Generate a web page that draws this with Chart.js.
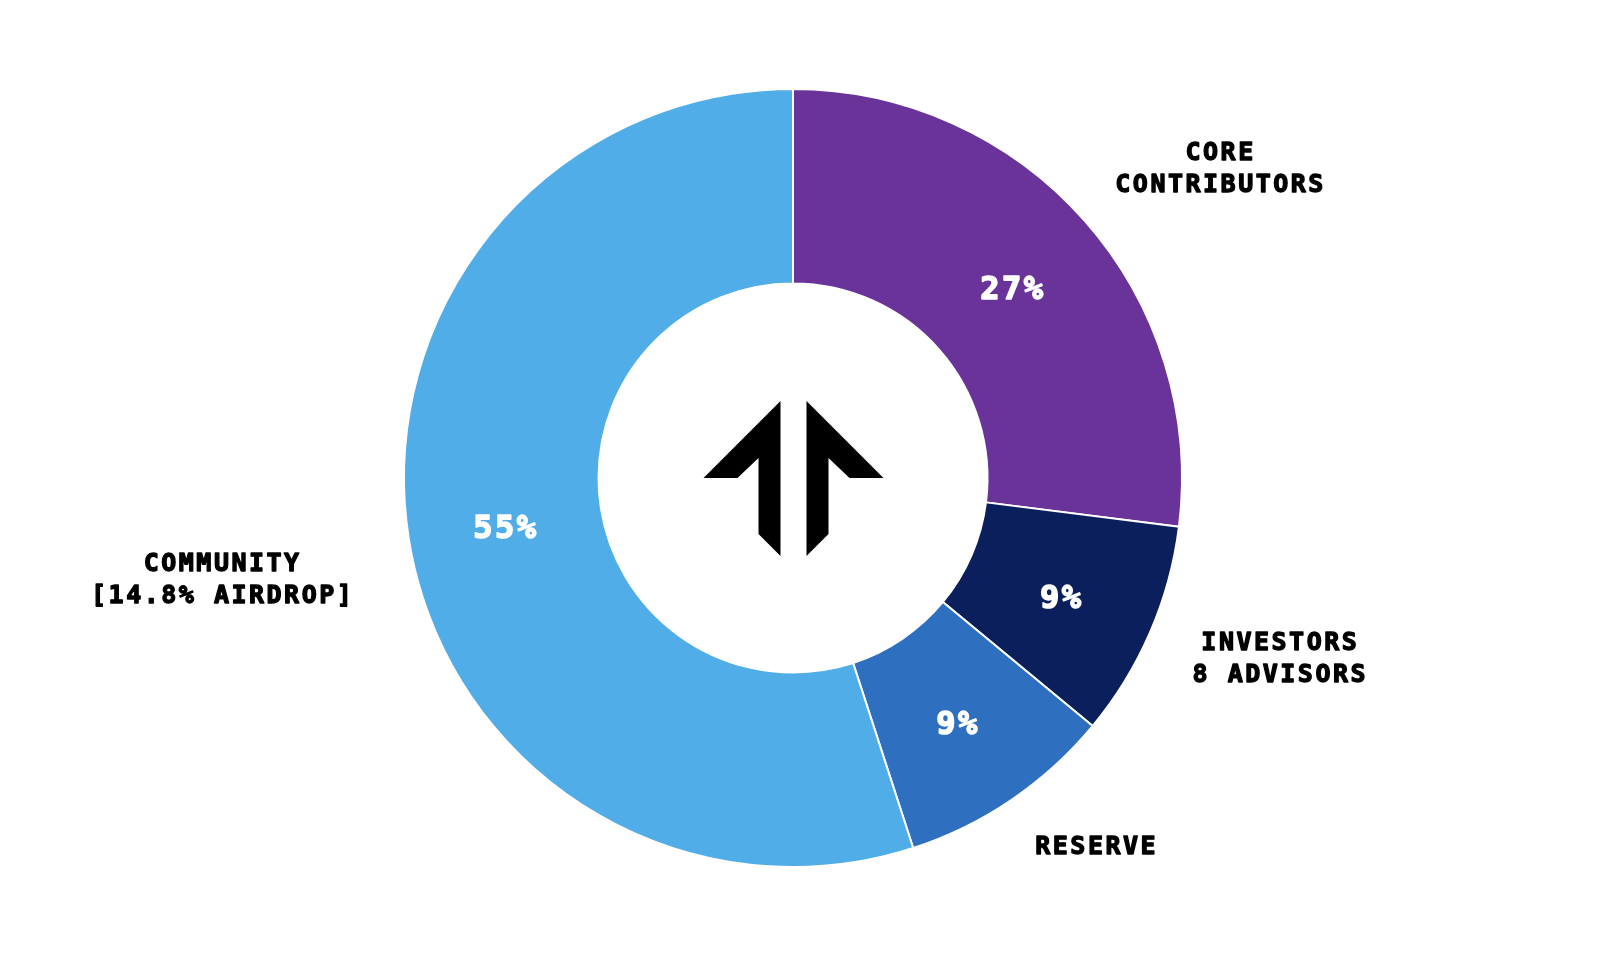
<!DOCTYPE html>
<html>
<head>
<meta charset="utf-8">
<script src="https://cdn.jsdelivr.net/npm/chart.js@4"></script>
<style>
  html, body { margin: 0; padding: 0; background: #fff; }
  #wrap { width: 1602px; height: 974px; }
</style>
</head>
<body>
<div id="wrap"><canvas id="chart1"></canvas></div>
<script>
    const labels = [["CORE", "CONTRIBUTORS"], ["INVESTORS", "8 ADVISORS"], ["RESERVE"], ["COMMUNITY", "[14.8% AIRDROP]"]];
    const shares = [27, 9, 9, 55];
    const colors = ["#6a3399", "#0b1f5c", "#2e6fbf", "#50ade8"];
    // small hand nudges for the outside names (px)
    const nudges = [[-3, 9], [2, 10], [-2, 5], [-15, 35]];

    const labelFont = "bold 25px 'DejaVu Sans Mono'";
    const pctFont = "bold 32px 'DejaVu Sans Mono'";

    // labels on and around the slices
    const sliceLabels = {
      id: "sliceLabels",
      afterDatasetsDraw(chart) {
        const ctx = chart.ctx;
        const meta = chart.getDatasetMeta(0);
        meta.data.forEach((arc, i) => {
          const p = arc.getProps(["x", "y", "startAngle", "endAngle", "innerRadius", "outerRadius"], true);
          const mid = (p.startAngle + p.endAngle) / 2;
          const dx = Math.cos(mid), dy = Math.sin(mid);

          // percentage inside the ring
          const rIn = (p.innerRadius + p.outerRadius) / 2;
          ctx.save();
          ctx.font = pctFont;
          ctx.letterSpacing = "2.5px";
          ctx.fillStyle = "#fff";
          ctx.strokeStyle = "#fff";
          ctx.lineWidth = 1.6;
          ctx.lineJoin = "round";
          ctx.textAlign = "center";
          ctx.textBaseline = "middle";
          const px = p.x + dx * rIn + 1, py = p.y + dy * rIn + 6;
          ctx.strokeText(shares[i] + "%", px, py);
          ctx.fillText(shares[i] + "%", px, py);
          ctx.restore();

          // name outside the ring
          const rOut = p.outerRadius + 42;
          const ax = p.x + dx * rOut, ay = p.y + dy * rOut;
          const lines = labels[i];
          const lh = 32;
          ctx.save();
          ctx.font = labelFont;
          ctx.letterSpacing = "2.5px";
          ctx.fillStyle = "#000";
          ctx.strokeStyle = "#000";
          ctx.lineWidth = 1.3;
          ctx.lineJoin = "round";
          ctx.textAlign = "center";
          ctx.textBaseline = "middle";
          const w = Math.max(...lines.map(t => ctx.measureText(t).width));
          const h = lines.length * lh;
          const cx = (dx >= 0 ? ax + w / 2 : ax - w / 2) + nudges[i][0];
          let top;
          if (dy < -0.5) top = ay - h;
          else if (dy > 0.5) top = ay - 8;
          else top = ay - h / 2;
          top += nudges[i][1];
          lines.forEach((t, j) => {
            ctx.strokeText(t, cx + 2, top + lh * j + lh / 2);
            ctx.fillText(t, cx + 2, top + lh * j + lh / 2);
          });
          ctx.restore();
        });
      }
    };

    // logo in the hole
    const centerLogo = {
      id: "centerLogo",
      afterDraw(chart) {
        const arc = chart.getDatasetMeta(0).data[0];
        const cx = arc.x + 0.5, cy = arc.y;
        const half = [[-13, -77], [-90, 0], [-56, 0], [-35, -20], [-35, 56], [-13, 78]];
        const ctx = chart.ctx;
        ctx.save();
        ctx.fillStyle = "#000";
        [1, -1].forEach(s => {
          ctx.beginPath();
          half.forEach(([x, y], k) => {
            if (k === 0) ctx.moveTo(cx + s * x, cy + y);
            else ctx.lineTo(cx + s * x, cy + y);
          });
          ctx.closePath();
          ctx.fill();
        });
        ctx.restore();
      }
    };

    const ctx1 = document.getElementById("chart1").getContext("2d");
    new Chart(ctx1, {
      type: "doughnut",
      data: {
        labels: labels.map(l => l.join(" ")),
        datasets: [{ data: shares, backgroundColor: colors, borderColor: "#fff", borderWidth: 2 }]
      },
      options: {
        responsive: true,
        maintainAspectRatio: false,
        animation: false,
        cutout: "50%",
        layout: { padding: { top: 88, bottom: 106, left: 0, right: 16 } },
        plugins: { legend: { display: false }, tooltip: { enabled: false } }
      },
      plugins: [sliceLabels, centerLogo]
    });
</script>
</body>
</html>
